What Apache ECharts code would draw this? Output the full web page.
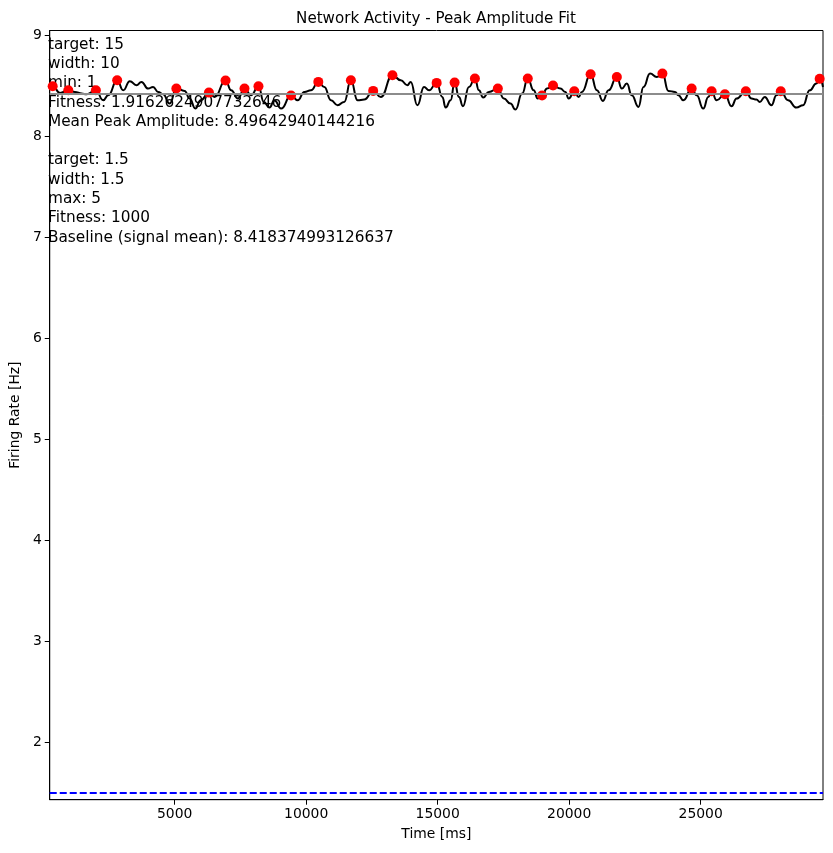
<!DOCTYPE html>
<html>
<head>
<meta charset="utf-8">
<script src="https://cdn.jsdelivr.net/npm/echarts@6/dist/echarts.min.js"></script>
<style>
  html, body { margin: 0; padding: 0; background: #fff; }
  #chart { width: 833px; height: 853px; }
</style>
</head>
<body>
<div id="chart"></div>
<script>
// signal (time in ms, firing rate in Hz)
const timeMs = [
  261, 362, 640, 956, 1209, 1462, 1651, 2005, 2283, 2473, 2814, 3042, 3295, 3547, 3737,
  3990, 4179, 4369, 4559, 4811, 5064, 5380, 5570, 5785, 5987, 6303, 6518, 6935, 7150, 7403,
  7655, 7908, 8186, 8389, 8603, 8793, 9046, 9425, 9678, 9931, 10183, 10461, 10689, 10942, 11195,
  11447, 11700, 11953, 12206, 12547, 12838, 13280, 13596, 13849, 13975, 14228, 14481, 14671, 14961, 15176,
  15303, 15492, 15644, 15808, 15960, 16188, 16415, 16567, 16731, 16946, 17287, 17515, 17768, 17957, 18210,
  18425, 18652, 18804, 18968, 19158, 19385, 19664, 19853, 19980, 20194, 20359, 20485, 20814, 21054, 21282,
  21496, 21812, 22002, 22192, 22381, 22634, 22824, 23076, 23329, 23544, 23772, 24024, 24151, 24340, 24656,
  24846, 25099, 25288, 25415, 25604, 25920, 26173, 26363, 26717, 26932, 27121, 27248, 27437, 27690, 27880,
  28044, 28322, 28638, 28891, 29144, 29397, 29523, 29650
];
const rateHz = [
  8.491, 8.498, 8.432, 8.458, 8.442, 8.425, 8.419, 8.458, 8.359, 8.409, 8.557, 8.458, 8.548, 8.508, 8.541,
  8.475, 8.491, 8.442, 8.419, 8.326, 8.475, 8.452, 8.376, 8.277, 8.359, 8.435, 8.392, 8.554, 8.458, 8.376,
  8.475, 8.409, 8.498, 8.343, 8.287, 8.359, 8.277, 8.406, 8.359, 8.442, 8.458, 8.541, 8.491, 8.359, 8.310,
  8.343, 8.557, 8.359, 8.366, 8.452, 8.392, 8.607, 8.557, 8.508, 8.541, 8.310, 8.491, 8.458, 8.531, 8.392,
  8.287, 8.359, 8.534, 8.392, 8.300, 8.491, 8.574, 8.458, 8.386, 8.442, 8.475, 8.376, 8.326, 8.267, 8.425,
  8.574, 8.458, 8.376, 8.406, 8.475, 8.505, 8.475, 8.442, 8.376, 8.449, 8.392, 8.442, 8.617, 8.458, 8.353,
  8.458, 8.590, 8.475, 8.524, 8.409, 8.293, 8.491, 8.623, 8.590, 8.623, 8.452, 8.442, 8.409, 8.359, 8.475,
  8.409, 8.277, 8.392, 8.449, 8.359, 8.419, 8.300, 8.376, 8.449, 8.376, 8.366, 8.343, 8.392, 8.310, 8.409,
  8.449, 8.359, 8.287, 8.310, 8.458, 8.524, 8.571, 8.491
];

// detected peaks
const peakTimes = [
  362, 956, 2005, 2814, 5064, 6303, 6935, 7655, 8186, 9425, 10461, 11700, 12547, 13280, 14961, 15644,
  16415, 17287, 18425, 18968, 19385, 20194, 20814, 21812, 23544, 24656, 25415, 25920, 26717, 28044, 29523
];
const peakRates = [
  8.498, 8.458, 8.458, 8.557, 8.475, 8.435, 8.554, 8.475, 8.498, 8.406, 8.541, 8.557, 8.452, 8.607, 8.531, 8.534,
  8.574, 8.475, 8.574, 8.406, 8.505, 8.449, 8.617, 8.590, 8.623, 8.475, 8.449, 8.419, 8.449, 8.449, 8.571
];

const baseline = 8.418374993126637;
const targetLine = 1.5;

const xTicks = [5000, 10000, 15000, 20000, 25000];
const yTicks = [2, 3, 4, 5, 6, 7, 8, 9];
const xRange = [250, 29650];
const yRange = [1.432, 9.05];

const infoLines = [
  'target: 15',
  'width: 10',
  'min: 1',
  'Fitness: 1.9162624907732646',
  'Mean Peak Amplitude: 8.49642940144216',
  '',
  'target: 1.5',
  'width: 1.5',
  'max: 5',
  'Fitness: 1000',
  'Baseline (signal mean): 8.418374993126637'
];

const FONT = 'DejaVu Sans';
const chart = echarts.init(document.getElementById('chart'), null, { renderer: 'canvas' });

const signal = timeMs.map((t, i) => [t, rateHz[i]]);
const peaks = peakTimes.map((t, i) => [t, peakRates[i]]);

chart.setOption({
  animation: false,
  backgroundColor: '#fff',
  textStyle: { fontFamily: FONT },
  title: {
    text: 'Network Activity - Peak Amplitude Fit',
    left: 431,
    textAlign: 'center',
    top: 7,
    textStyle: { fontFamily: FONT, fontSize: 15.1, fontWeight: 'normal', color: '#000' }
  },
  grid: {
    left: 48, right: 10, top: 30.5, bottom: 53.3,
    show: true, borderColor: '#000', borderWidth: 1, backgroundColor: 'transparent'
  },
  xAxis: {
    type: 'value',
    min: xRange[0], max: xRange[1],
    name: 'Time [ms]',
    nameLocation: 'middle',
    nameGap: 28,
    nameTextStyle: { fontFamily: FONT, fontSize: 13.9, color: '#000' },
    axisLine: { show: true, onZero: false, lineStyle: { color: '#000', width: 1 } },
    axisTick: { show: true, length: 5, customValues: xTicks, lineStyle: { color: '#000' } },
    axisLabel: {
      customValues: xTicks, margin: 8, fontFamily: FONT, fontSize: 13.9, color: '#000',
      formatter: v => String(v)
    },
    splitLine: { show: false }
  },
  yAxis: {
    type: 'value',
    min: yRange[0], max: yRange[1],
    name: 'Firing Rate [Hz]',
    nameLocation: 'middle',
    nameRotate: 90,
    nameGap: 24,
    nameTextStyle: { fontFamily: FONT, fontSize: 13.9, color: '#000' },
    axisLine: { show: true, onZero: false, lineStyle: { color: '#000', width: 1 } },
    axisTick: { show: true, length: 5, customValues: yTicks, lineStyle: { color: '#000' } },
    axisLabel: { customValues: yTicks, margin: 8, fontFamily: FONT, fontSize: 13.9, color: '#000' },
    splitLine: { show: false }
  },
  graphic: [{
    type: 'text',
    left: 48,
    top: 35,
    z: 1,
    style: {
      text: infoLines.join('\n'),
      font: '15.3px "DejaVu Sans"',
      lineHeight: 19.3,
      fill: '#000'
    }
  }],
  series: [
    {
      type: 'line',
      data: signal,
      showSymbol: false,
      smooth: 0.5,
      smoothMonotone: 'x',
      lineStyle: { color: '#000', width: 2 },
      z: 2,
      markLine: {
        silent: true,
        symbol: 'none',
        label: { show: false },
        data: [
          { yAxis: baseline, lineStyle: { color: '#8c8c8c', width: 2.2, type: 'solid', opacity: 1 } },
          { yAxis: targetLine, lineStyle: { color: '#0000ff', width: 2, type: [7, 3] } }
        ]
      }
    },
    {
      type: 'scatter',
      data: peaks,
      symbol: 'circle',
      symbolSize: 10,
      itemStyle: { color: '#ff0000', opacity: 1 },
      z: 4
    }
  ]
});
</script>
</body>
</html>
